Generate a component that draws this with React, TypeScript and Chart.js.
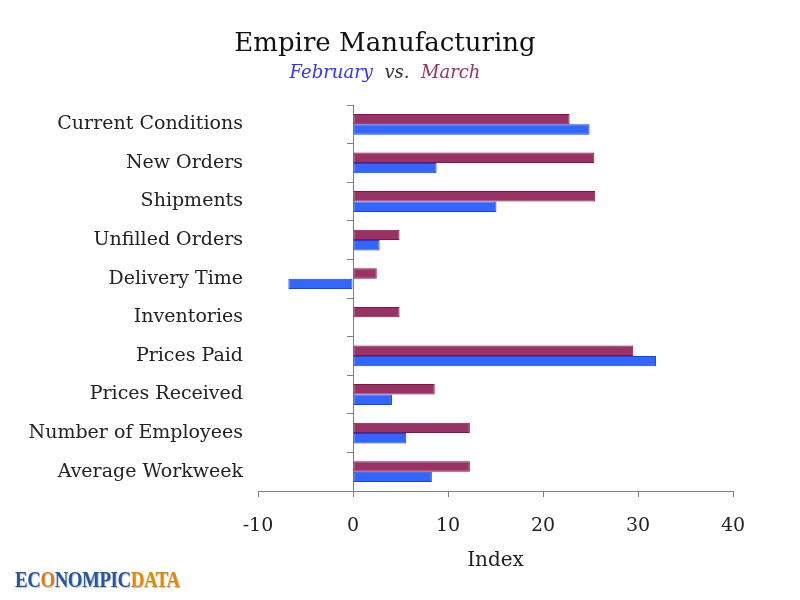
import { useEffect, useRef } from "react";
import { Chart, registerables } from "chart.js";

Chart.register(...registerables);

// ── Data ──────────────────────────────────────────────────────────────────────
const categories = [
  "Current Conditions",
  "New Orders",
  "Shipments",
  "Unfilled Orders",
  "Delivery Time",
  "Inventories",
  "Prices Paid",
  "Prices Received",
  "Number of Employees",
  "Average Workweek",
];
const marchValues = [22.8, 25.4, 25.5, 4.9, 2.5, 4.9, 29.5, 8.6, 12.3, 12.3];
const februaryValues = [24.9, 8.8, 15.1, 2.8, -6.8, 0, 31.9, 4.1, 5.6, 8.3];
const xTicks = [-10, 0, 10, 20, 30, 40];

const SERIF = "'DejaVu Serif', serif";
const AXIS_GRAY = "#808080";

export default function App() {
  const canvasRef = useRef<HTMLCanvasElement>(null);

  useEffect(() => {
    const canvas = canvasRef.current;
    if (!canvas) return;

    const chart = new Chart(canvas, {
      type: "bar",
      data: {
        labels: categories,
        datasets: [
          {
            label: "March",
            data: marchValues,
            backgroundColor: "#993366",
            borderColor: "#85104a",
            borderWidth: 1,
            borderSkipped: false,
            yAxisID: "y",
            barPercentage: 1,
            categoryPercentage: 0.54,
          },
          {
            label: "February",
            data: februaryValues,
            backgroundColor: "#3366ff",
            borderColor: "#1144e0",
            borderWidth: 1,
            borderSkipped: false,
            yAxisID: "y",
            barPercentage: 1,
            categoryPercentage: 0.54,
          },
        ],
      },
      options: {
        indexAxis: "y",
        responsive: false,
        animation: false,
        layout: { padding: { top: 105, right: 67, left: 0, bottom: 0 } },
        plugins: {
          legend: { display: false },
          tooltip: { enabled: false },
          title: { display: false },
        },
        scales: {
          y: {
            type: "category",
            position: "left",
            grid: { display: false, drawTicks: false },
            border: { display: false },
            ticks: {
              color: "#222",
              padding: 15,
              font: { family: SERIF, size: 19 },
            },
            afterFit: (s: any) => { s.width = 258; },
          },
          // zero line with category tick marks
          yZero: {
            type: "category",
            axis: "y",
            position: { x: 0 },
            labels: categories,
            offset: true,
            grid: {
              display: true,
              drawOnChartArea: false,
              drawTicks: true,
              tickLength: 6,
              offset: true,
              color: AXIS_GRAY,
            },
            border: { display: true, color: AXIS_GRAY, width: 1 },
            ticks: { display: false },
          } as any,
          x: {
            type: "linear",
            position: "bottom",
            min: xTicks[0],
            max: xTicks[xTicks.length - 1],
            afterBuildTicks: (s: any) => { s.ticks = xTicks.map((v) => ({ value: v })); },
            grid: {
              display: true,
              drawOnChartArea: false,
              drawTicks: true,
              tickLength: 6,
              color: AXIS_GRAY,
            },
            border: { display: true, color: AXIS_GRAY, width: 1 },
            ticks: {
              color: "#222",
              padding: 18,
              font: { family: SERIF, size: 19 },
            },
            title: {
              display: true,
              text: "Index",
              color: "#222",
              font: { family: SERIF, size: 20 },
              padding: { top: 0, bottom: 27 },
            },
            afterFit: (s: any) => { s.height = 109; },
          },
        },
      },
    });

    return () => { chart.destroy(); };
  }, []);

  return (
    <div style={{ position: "absolute", left: 0, top: 0, width: 800, height: 600, background: "#fff", overflow: "hidden" }}>
      <canvas ref={canvasRef} width={800} height={600} style={{ display: "block", width: 800, height: 600 }} />

      {/* Title */}
      <div style={{
        position: "absolute", left: 0, top: 26, width: 770, textAlign: "center",
        fontFamily: SERIF, fontSize: 26, lineHeight: "32px", color: "#111",
      }}>
        Empire Manufacturing
      </div>
      <div style={{
        position: "absolute", left: 0, top: 60, width: 770, textAlign: "center",
        fontFamily: SERIF, fontStyle: "italic", fontSize: 18, lineHeight: "24px",
      }}>
        <span style={{ color: "#3333ff" }}>February</span>
        <span style={{ color: "#333" }}>&nbsp; vs. &nbsp;</span>
        <span style={{ color: "#993366" }}>March</span>
      </div>

      {/* Logo */}
      <div style={{
        position: "absolute", left: 15, top: 566, fontFamily: "'Liberation Serif', serif",
        fontWeight: "bold", fontSize: 23, lineHeight: "28px", letterSpacing: -0.5,
        transform: "scaleX(0.82)", transformOrigin: "left center",
        textShadow: "1px 1px 1px rgba(0,0,0,0.25)", whiteSpace: "nowrap",
      }}>
        <span style={{ color: "#2456a8" }}>EC</span>
        <span style={{ color: "#e07b10" }}>O</span>
        <span style={{ color: "#2456a8" }}>NOMPIC</span>
        <span style={{ color: "#e08a00" }}>DATA</span>
      </div>
    </div>
  );
}
